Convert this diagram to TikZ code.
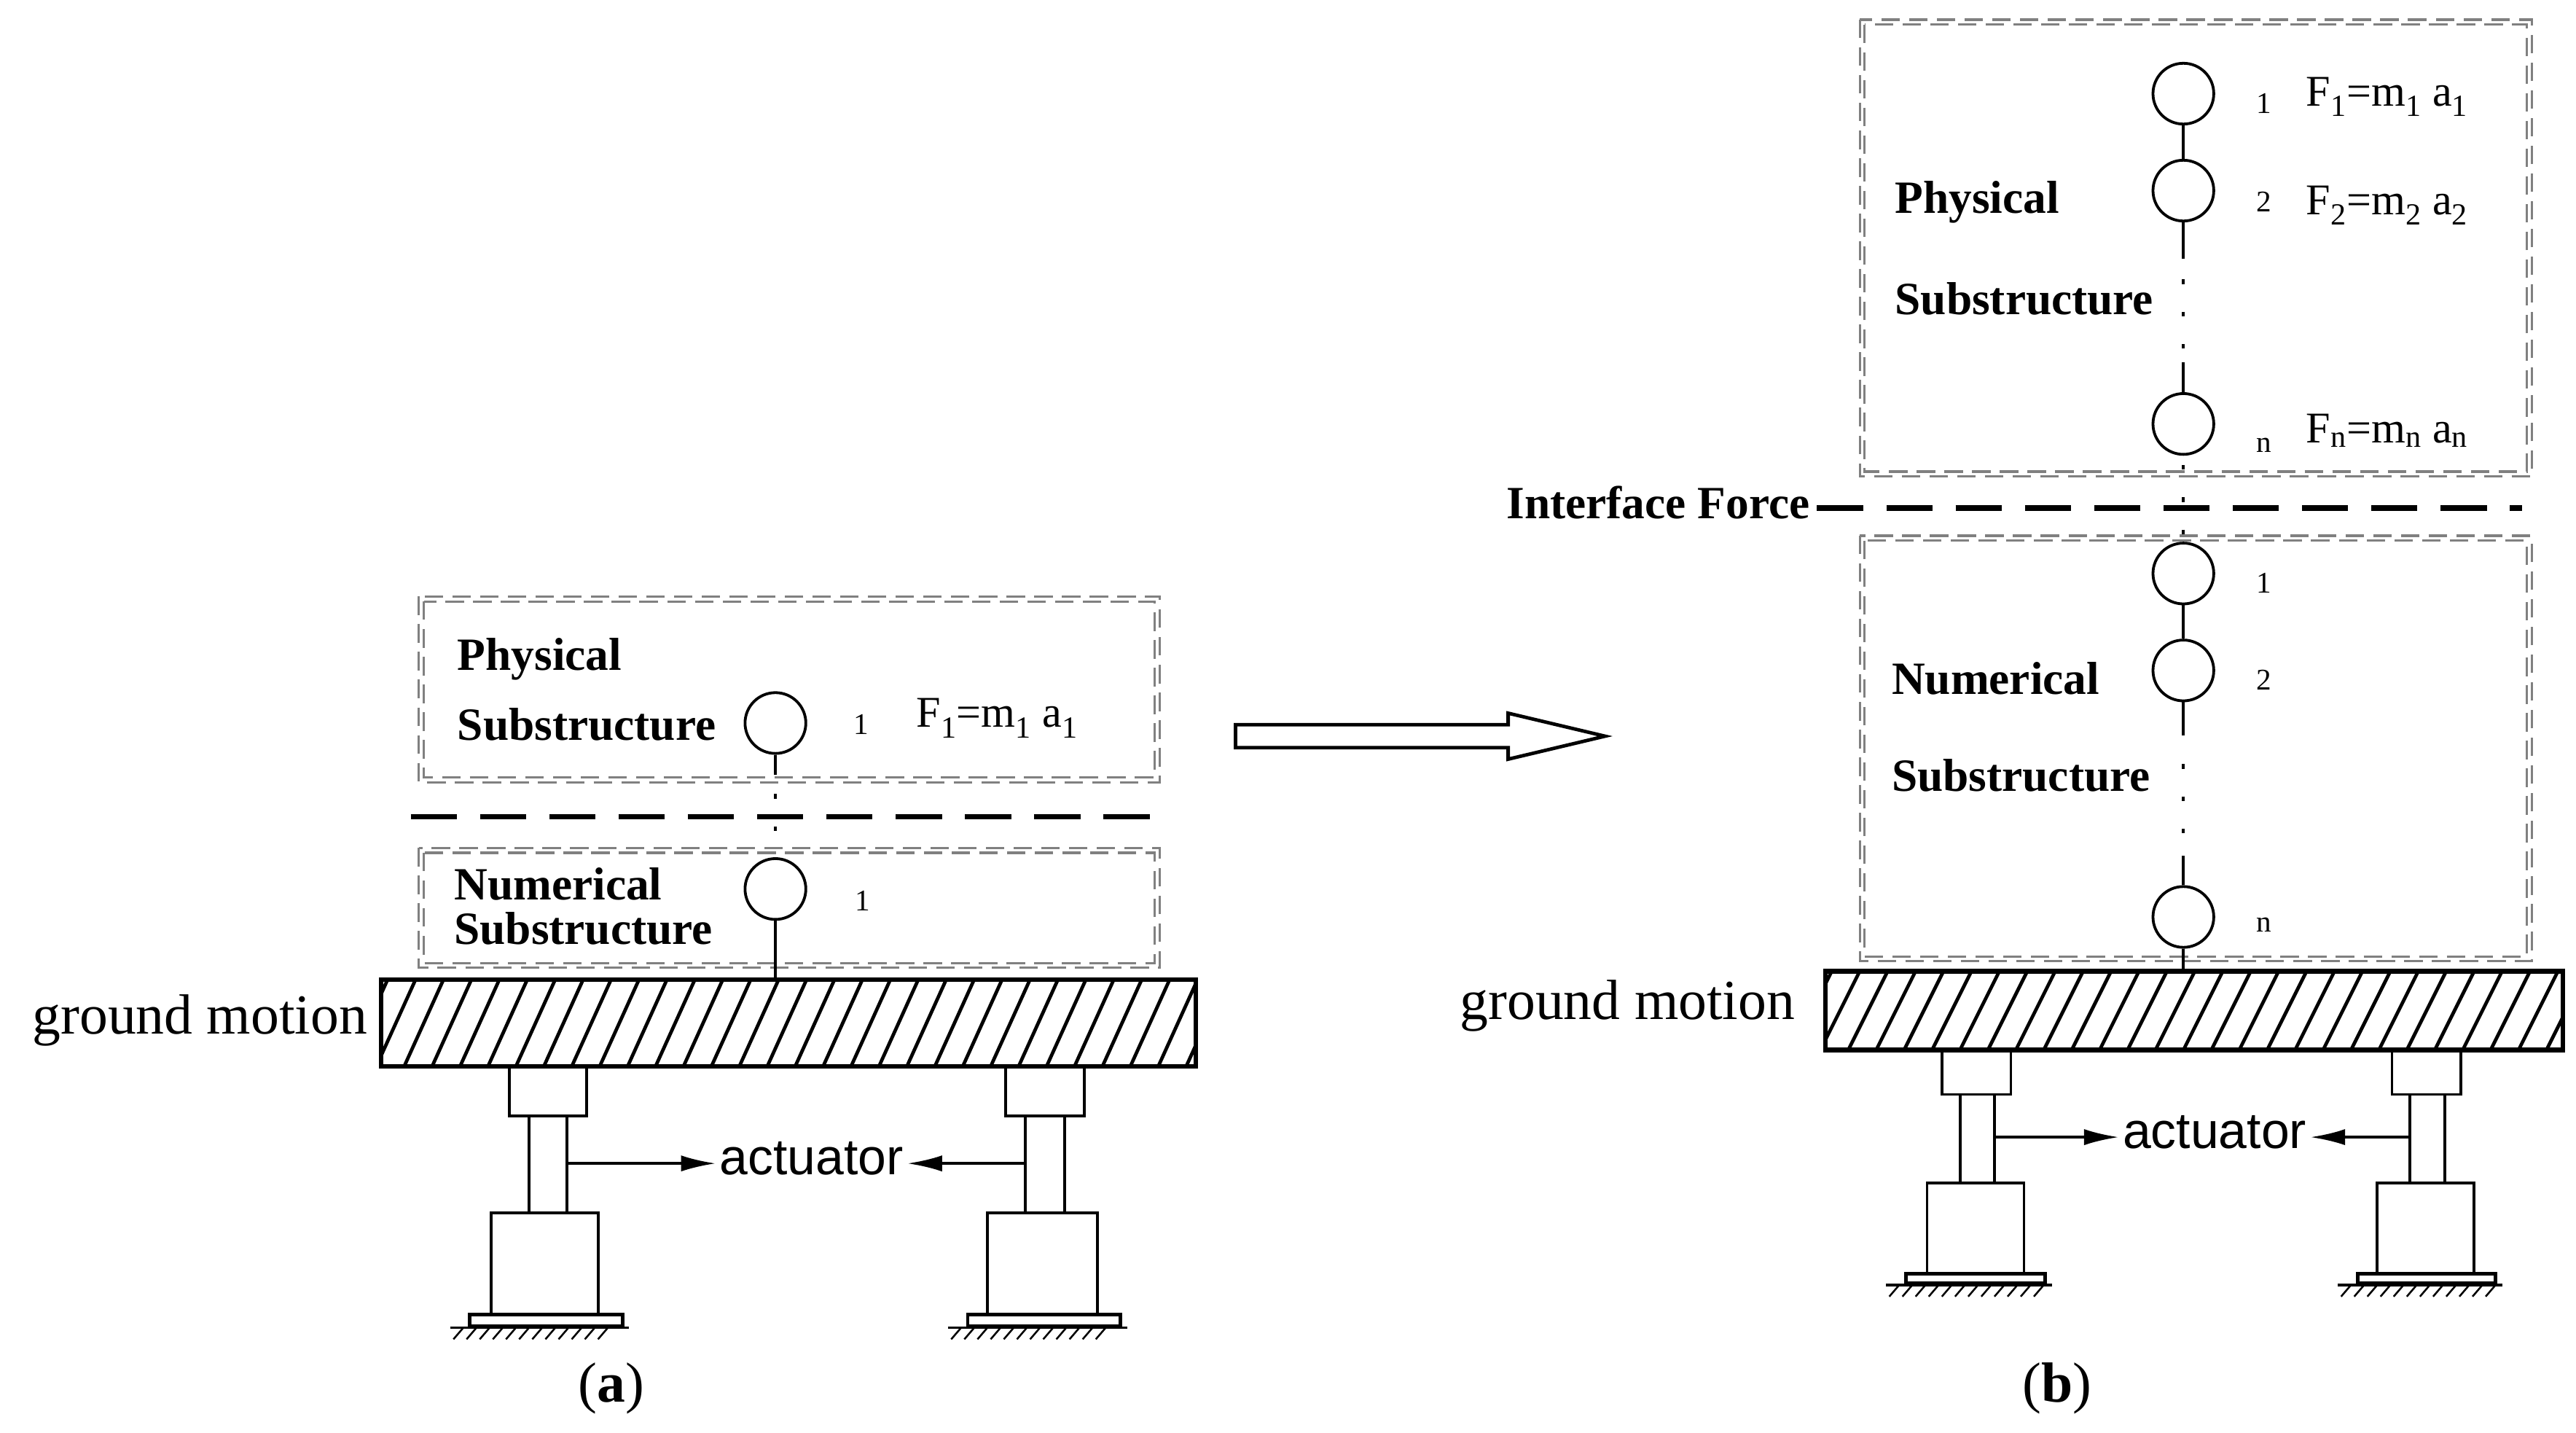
\documentclass[tikz,border=0pt]{standalone}
\usepackage{fontspec}
\setmainfont{Liberation Serif}
\newfontfamily\sans{Liberation Sans}
\usetikzlibrary{arrows.meta}
\begin{document}
\begin{tikzpicture}[x=0.05cm,y=-0.05cm,
  mass/.style={draw,circle,minimum size=1.85cm,inner sep=0,line width=2.4pt},
  box/.style={draw=gray,dash pattern=on 16pt off 8pt,line width=2pt},
  lbl/.style={font=\fontsize{40}{42}\selectfont\bfseries,anchor=west},
  num/.style={font=\fontsize{26}{28}\selectfont},
  frm/.style={font=\fontsize{38}{40}\selectfont},
  gm/.style={font=\fontsize{49}{51}\selectfont},
  act/.style={font=\sans\fontsize{44}{46}\selectfont},
  ln/.style={line width=2.4pt},
  dots/.style={line width=2.4pt,dash pattern=on 4pt off 24pt},
  sep/.style={line width=5pt,dash pattern=on 40pt off 20pt},
  arr/.style={line width=2.4pt,-{Latex[length=30pt,width=14pt]}}]
\useasboundingbox (0,0) rectangle (1568,872);
\newcommand{\dbox}[4]{\draw[box] (#1,#2) rectangle (#3,#4); \draw[box] (#1+3,#2+3) rectangle (#3-3,#4-3);}
\newcommand{\ground}[4]{%
  \begin{scope}
  \clip (#1,#2) rectangle (#3,#4);
  \foreach \k in {0,...,40}{\draw[line width=3pt] (#1-20+\k*17,#4) -- (#1+4+\k*17,#2);}
  \end{scope}
  \draw[line width=4pt] (#1,#2) rectangle (#3,#4);}
\newcommand{\actu}[9]{%
  \foreach \a/\b/\c/\d/\e in {#9}{
  \draw[ln] (#1,\a) rectangle (#2,\b);
  \draw[ln] (#3,\b) rectangle (#4,\c);
  \draw[ln] (#5,\c) rectangle (#6,\d);
  \draw[line width=3pt] (#7,\d) rectangle (#8,\e);
  \foreach \k in {0,...,11}{\draw[line width=1.6pt] (#7-10+\k*8,\e+8) -- (#7-4+\k*8,\e+1);}
  \draw[line width=2pt] (#7-12,\e+1) -- (#8+4,\e+1);}}
%%%%%%%%%%%% (a)
\dbox{255}{363}{706}{476}
\dbox{255}{516}{706}{589}
\draw[sep] (250,497) -- (700,497);
\ground{232}{596}{728}{649}
\node[gm,anchor=east] (gma) at (226,621) {ground motion};
\node[lbl] (pa1) at (276,401) {Physical};
\node[lbl] (pa2) at (276,441) {Substructure};
\node[lbl] (na1) at (274,538) {Numerical};
\node[lbl] (na2) at (274,565) {Substructure};
\node[mass] (ma1) at (472,440) {};
\node[mass] (ma2) at (472,541) {};
\node[num] (la1) at (524,441) {1};
\node[num] (la2) at (525,548) {1};
\node[frm] (fa1) at (607,437) {F\textsubscript{1}=m\textsubscript{1} a\textsubscript{1}};
\coordinate (ga) at (472,596);
\draw[ln] (ma1.south) -- ++(0,12);
\draw[dots] ([yshift=-34pt]ma1.south) -- (ma2.north);
\draw[ln] (ma2.south) -- (ga);
\actu{310}{357}{322}{345}{299}{364}{286}{379}{649/679/738/800/807}
\actu{612}{660}{624}{648}{601}{668}{589}{682}{649/679/738/800/807}
\node[act] (aa) at (494,705) {actuator};
\coordinate (aL) at (345,708); \coordinate (aR) at (624,708);
\draw[arr] (aL) -- (aL -| aa.west);
\draw[arr] (aR) -- (aR -| aa.east);
\node[gm] (capa) at (372,845) {(\textbf{a})};
%%%%%%%%%%%% big arrow
\draw[line width=3pt] (752,441) -- (918,441) -- (918,434) -- (977,448) -- (918,462) -- (918,455) -- (752,455) -- cycle;
%%%%%%%%%%%% (b)
\dbox{1132}{12}{1541}{290}
\dbox{1132}{326}{1541}{585}
\draw[sep] (1106,309) -- (1535,309);
\node[lbl,anchor=east] (iff) at (1104,306) {Interface Force};
\ground{1111}{591}{1560}{639}
\node[gm,anchor=east] (gmb) at (1095,612) {ground motion};
\node[lbl] (pb1) at (1151,123) {Physical};
\node[lbl] (pb2) at (1151,182) {Substructure};
\node[lbl] (nb1) at (1149,413) {Numerical};
\node[lbl] (nb2) at (1149,472) {Substructure};
\node[mass] (p1) at (1329,57) {};
\node[mass] (p2) at (1329,116) {};
\node[mass] (pn) at (1329,258) {};
\node[mass] (n1) at (1329,349) {};
\node[mass] (n2) at (1329,408) {};
\node[mass] (nn) at (1329,558) {};
\node[num] at (1378,63) {1};
\node[num] at (1378,123) {2};
\node[num] at (1378,271) {n};
\node[num] at (1378,355) {1};
\node[num] at (1378,414) {2};
\node[num] at (1378,563) {n};
\node[frm] at (1453,59) {F\textsubscript{1}=m\textsubscript{1} a\textsubscript{1}};
\node[frm] at (1453,125) {F\textsubscript{2}=m\textsubscript{2} a\textsubscript{2}};
\node[frm] at (1453,262) {F\textsubscript{n}=m\textsubscript{n} a\textsubscript{n}};
\draw[ln] (p1) -- (p2);
\draw[ln] (p2.south) -- ++(0,22);
\draw[dots] (1329,170) -- (1329,220);
\draw[ln] (pn.north) -- ++(0,-18);
\draw[dots] ([yshift=-8pt]pn.south) -- (n1.north);
\draw[ln] (n1) -- (n2);
\draw[ln] (n2.south) -- ++(0,20);
\draw[dots] (1329,465) -- (1329,515);
\draw[ln] (nn.north) -- ++(0,-18);
\coordinate (gb) at (1329,591);
\draw[ln] (nn.south) -- (gb);
\actu{1182}{1224}{1193}{1214}{1173}{1232}{1160}{1245}{639/666/720/775/781}
\actu{1456}{1498}{1467}{1488}{1447}{1506}{1435}{1519}{639/666/720/775/781}
\node[act] (ab) at (1348,689) {actuator};
\coordinate (bL) at (1214,692); \coordinate (bR) at (1467,692);
\draw[arr] (bL) -- (bL -| ab.west);
\draw[arr] (bR) -- (bR -| ab.east);
\node[gm] (capb) at (1252,845) {(\textbf{b})};
\end{tikzpicture}
\end{document}
